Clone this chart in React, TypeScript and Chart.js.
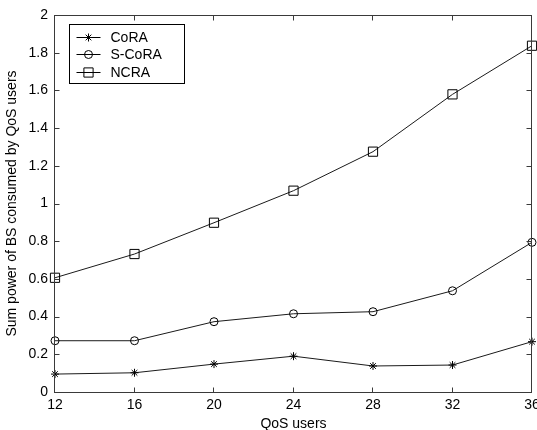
import React, { useEffect, useRef } from 'react';
import { Chart, registerables } from 'chart.js';
import { drawPoint } from 'chart.js/helpers';

Chart.register(...registerables);

const qosUsers = [12, 16, 20, 24, 28, 32, 36];
const coraValues = [0.095, 0.102, 0.148, 0.19, 0.138, 0.143, 0.267];
const sCoraValues = [0.272, 0.272, 0.373, 0.415, 0.426, 0.537, 0.794];
const ncraValues = [0.606, 0.732, 0.898, 1.068, 1.275, 1.579, 1.837];
const seriesNames = ['CoRA', 'S-CoRA', 'NCRA'];
const seriesMarkers = ['star', 'circle', 'rect'];
const xTicks = [12, 16, 20, 24, 28, 32, 36];
const yTicks = [0, 0.2, 0.4, 0.6, 0.8, 1, 1.2, 1.4, 1.6, 1.8, 2];
const xTitle = 'QoS users';
const yTitle = 'Sum power of BS consumed by QoS users';

const FONT = "'Liberation Sans', Arial, Helvetica, sans-serif";
const markerRadius: Record<string, number> = { star: 4, circle: 4, rect: 6.5 };

function drawBox(chart: any) {
  const ctx = chart.ctx as CanvasRenderingContext2D;
  const a = chart.chartArea;
  const xs = chart.scales.x;
  const ys = chart.scales.y;
  ctx.save();
  ctx.strokeStyle = '#3a3a3a';
  ctx.lineWidth = 1;
  const L = Math.round(a.left) - 0.5;
  const R = Math.round(a.right) - 0.5;
  const T = Math.round(a.top) + 0.5;
  const B = Math.round(a.bottom) + 0.5;
  ctx.strokeRect(L, T, R - L, B - T);
  const tl = 5;
  ctx.beginPath();
  for (let i = 0; i < xTicks.length; i++) {
    const px = Math.round(xs.getPixelForValue(xTicks[i])) - 0.5;
    ctx.moveTo(px, B);
    ctx.lineTo(px, B - tl);
    ctx.moveTo(px, T);
    ctx.lineTo(px, T + tl);
  }
  for (let i = 0; i < yTicks.length; i++) {
    const py = Math.round(ys.getPixelForValue(yTicks[i])) + 0.5;
    ctx.moveTo(L, py);
    ctx.lineTo(L + tl, py);
    ctx.moveTo(R, py);
    ctx.lineTo(R - tl, py);
  }
  ctx.stroke();
  ctx.restore();
}

function drawLegendBox(chart: any) {
  const ctx = chart.ctx as CanvasRenderingContext2D;
  const a = chart.chartArea;
  ctx.save();
  const lx = Math.round(a.left) + 14.5;
  const ly = Math.round(a.top) + 9.5;
  const lw = 115;
  const lh = 59;
  ctx.fillStyle = '#ffffff';
  ctx.fillRect(lx, ly, lw, lh);
  ctx.strokeStyle = '#000000';
  ctx.lineWidth = 1;
  ctx.strokeRect(lx, ly, lw, lh);
  ctx.font = `14px ${FONT}`;
  ctx.textBaseline = 'middle';
  ctx.textAlign = 'left';
  seriesNames.forEach((name, i) => {
    const ry = Math.round(ly + 12 + i * 17.5) + 0.5;
    ctx.strokeStyle = '#000000';
    ctx.lineWidth = 1;
    ctx.beginPath();
    ctx.moveTo(lx + 7, ry);
    ctx.lineTo(lx + 31, ry);
    ctx.stroke();
    ctx.fillStyle = 'rgba(0,0,0,0)';
    drawPoint(ctx, { pointStyle: seriesMarkers[i], radius: markerRadius[seriesMarkers[i]], borderWidth: 1, rotation: 0 } as any, lx + 19, ry);
    ctx.fillStyle = '#000000';
    ctx.fillText(name, lx + 41, ry + 1);
  });
  ctx.restore();
}

const matlabAxes = {
  id: 'matlabAxes',
  afterDraw(chart: any) {
    drawBox(chart);
    drawLegendBox(chart);
  },
};

function makeDataset(label: string, values: number[], marker: string) {
  return {
    label,
    data: qosUsers.map((x, i) => ({ x, y: values[i] })),
    borderColor: '#1a1a1a',
    borderWidth: 1,
    pointStyle: marker,
    pointRadius: markerRadius[marker],
    pointBorderColor: '#000000',
    pointBackgroundColor: 'rgba(0,0,0,0)',
    pointBorderWidth: 1,
    tension: 0,
    fill: false,
    clip: false,
  };
}

export default function App() {
  const canvasRef = useRef<HTMLCanvasElement | null>(null);

  useEffect(() => {
    if (!canvasRef.current) return;
    const chart = new Chart(canvasRef.current, {
      type: 'line',
      data: {
        datasets: [
          makeDataset(seriesNames[0], coraValues, seriesMarkers[0]),
          makeDataset(seriesNames[1], sCoraValues, seriesMarkers[1]),
          makeDataset(seriesNames[2], ncraValues, seriesMarkers[2]),
        ] as any,
      },
      options: {
        animation: false,
        responsive: false,
        devicePixelRatio: 1,
        layout: { autoPadding: false, padding: { top: 15, right: 5, bottom: 0, left: 0 } },
        plugins: {
          legend: { display: false },
          tooltip: { enabled: false },
        },
        scales: {
          x: {
            type: 'linear',
            min: 12,
            max: 36,
            grid: { display: false, drawTicks: false },
            border: { display: false },
            afterBuildTicks: (s: any) => {
              s.ticks = xTicks.map((v) => ({ value: v }));
            },
            afterFit: (s: any) => {
              s.height = 38;
              s.paddingLeft = 0;
              s.paddingRight = 0;
            },
            ticks: {
              padding: 5,
              maxRotation: 0,
              autoSkip: false,
              color: '#000000',
              font: { family: FONT, size: 14 },
              callback: (v: any) => String(v),
            },
            title: {
              display: true,
              text: xTitle,
              color: '#000000',
              font: { family: FONT, size: 14, lineHeight: 1 },
              padding: { top: 0, bottom: -1 },
            },
          },
          y: {
            type: 'linear',
            min: 0,
            max: 2,
            grid: { display: false, drawTicks: false },
            border: { display: false },
            afterBuildTicks: (s: any) => {
              s.ticks = yTicks.map((v) => ({ value: v }));
            },
            afterFit: (s: any) => {
              s.width = 55;
              s.paddingTop = 0;
              s.paddingBottom = 0;
            },
            ticks: {
              padding: 7,
              autoSkip: false,
              color: '#000000',
              font: { family: FONT, size: 14 },
              callback: (v: any) => String(Math.round(Number(v) * 10) / 10),
            },
            title: {
              display: true,
              text: yTitle,
              color: '#000000',
              font: { family: FONT, size: 14, lineHeight: 1 },
              padding: { top: 5, bottom: 0 },
            },
          },
        },
      } as any,
      plugins: [matlabAxes],
    });
    return () => chart.destroy();
  }, []);

  return (
    <div style={{ position: 'absolute', left: 0, top: 0, width: 537, height: 430, background: '#fff' }}>
      <canvas ref={canvasRef} width={537} height={430} style={{ display: 'block', width: 537, height: 430 }} />
    </div>
  );
}
